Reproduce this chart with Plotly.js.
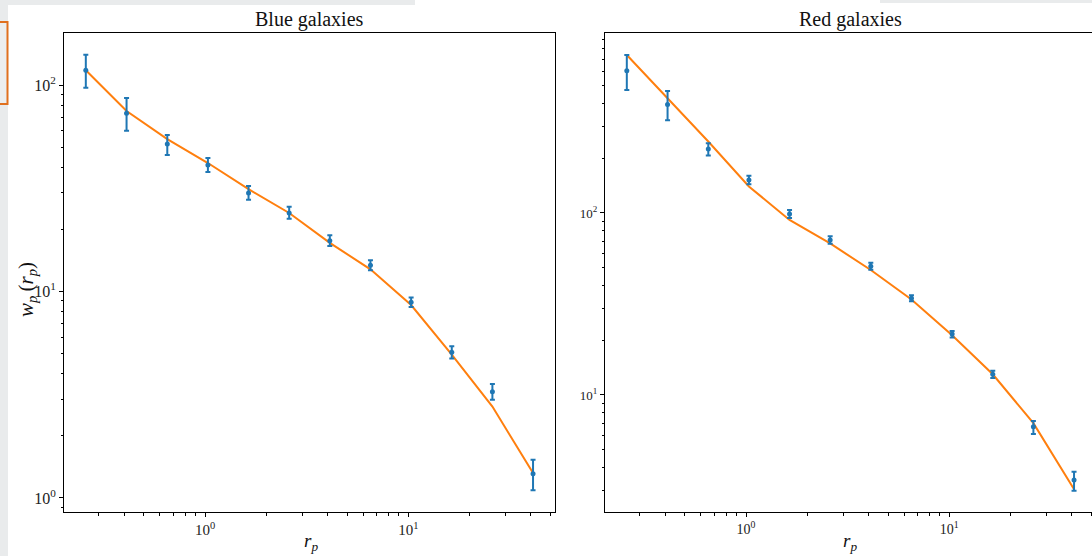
<!DOCTYPE html>
<html>
<head>
<meta charset="utf-8">
<script src="https://cdn.plot.ly/plotly-3.0.1.min.js"></script>
<style>
html,body{margin:0;padding:0;overflow:hidden;background:#fff;width:1092px;height:556px;}
#chart{width:1100px;height:556px;}
</style>
</head>
<body>
<div id="chart"></div>
<script>
// ---- data ----
const rp = [0.259, 0.411, 0.652, 1.033, 1.637, 2.594, 4.111, 6.516, 10.33, 16.37, 25.94, 41.11];

const blueObs   = [118, 73, 51.8, 41, 30, 24, 17.6, 13.4, 8.87, 5.08, 3.27, 1.31];
const blueErrHi = [22, 13.5, 5.5, 3.3, 2.4, 1.7, 1.1, 0.76, 0.47, 0.35, 0.29, 0.22];
const blueErrLo = [21, 13, 6, 3.1, 2.2, 1.5, 1.0, 0.72, 0.45, 0.35, 0.28, 0.22];
const blueModel = [118, 74.8, 54.7, 41.9, 31.3, 24, 17.2, 12.8, 8.6, 4.95, 2.77, 1.32];

const redObs    = [605, 395, 225, 152, 98.8, 71, 51, 34, 21.6, 13.0, 6.7, 3.41];
const redErrHi  = [133, 73, 17, 8, 5.2, 3.5, 2.3, 1.3, 0.9, 0.6, 0.5, 0.38];
const redErrLo  = [131, 72, 18, 8, 4.8, 3.3, 2.2, 1.3, 0.9, 0.6, 0.6, 0.43];
const redModel  = [738, 427, 247, 140, 91.6, 68, 48.6, 33.5, 21.3, 13.0, 7.0, 3.03];

const xTicks      = [1, 10];
const xTickText   = ["10<sup>0</sup>", "10<sup>1</sup>"];
const yTicksBlue  = [1, 10, 100];
const yTextBlue   = ["10<sup>0</sup>", "10<sup>1</sup>", "10<sup>2</sup>"];
const yTicksRed   = [10, 100];
const yTextRed    = ["10<sup>1</sup>", "10<sup>2</sup>"];
const minorTicks = [];
[0.1, 1, 10, 100].forEach(d => { for (let k = 2; k <= 9; k++) minorTicks.push(+(k * d).toPrecision(3)); });

const titles = ["Blue galaxies", "Red galaxies"];
const xLabel = "<i>r</i><sub><i>p</i></sub>";
const yLabel = "<i>w</i><sub><i>p</i></sub>\u2009(<i>r</i><sub><i>p</i></sub>)";

// ---- styling ----
const C0 = "#1f77b4", C1 = "#ff7f0e";
const FONT = "Liberation Serif, DejaVu Serif, serif";

function obsTrace(y, hi, lo, xa, ya) {
  return {
    x: rp, y: y, xaxis: xa, yaxis: ya, type: "scatter", mode: "markers",
    marker: {color: C0, size: 5},
    error_y: {type: "data", symmetric: false, array: hi, arrayminus: lo,
              color: C0, thickness: 2, width: 2.5},
    showlegend: false
  };
}
function modelTrace(y, xa, ya) {
  return {x: rp, y: y, xaxis: xa, yaxis: ya, type: "scatter", mode: "lines",
          line: {color: C1, width: 2}, showlegend: false};
}

const data = [
  modelTrace(blueModel, "x", "y"),
  obsTrace(blueObs, blueErrHi, blueErrLo, "x", "y"),
  modelTrace(redModel, "x2", "y2"),
  obsTrace(redObs, redErrHi, redErrLo, "x2", "y2")
];

function axis(domain, range, anchor, fs, vals, text) {
  return {
    type: "log", domain: domain, range: range, anchor: anchor,
    showline: true, mirror: true, linecolor: "#000", linewidth: 1,
    showgrid: false, zeroline: false,
    ticks: "outside", ticklen: 4, tickwidth: 1, tickcolor: "#000",
    tickmode: "array", tickvals: vals, ticktext: text,
    tickfont: {family: FONT, size: fs, color: "#222"},
    minor: {tickmode: "array", tickvals: minorTicks, ticks: "outside",
            ticklen: 2.5, tickwidth: 1, tickcolor: "#000", showgrid: false}
  };
}

const W = 1100, H = 556;
const yDom = [(H - 512) / H, (H - 33) / H];
const layout = {
  width: W, height: H,
  margin: {l: 0, r: 0, t: 0, b: 0},
  paper_bgcolor: "#fff", plot_bgcolor: "#fff",
  font: {family: FONT},
  xaxis:  axis([64 / W, 555 / W], [-0.694, 1.722], "y", 15, xTicks, xTickText),
  yaxis:  axis(yDom, [-0.068, 2.252], "x", 16, yTicksBlue, yTextBlue),
  xaxis2: axis([605 / W, 1096 / W], [-0.694, 1.722], "y2", 14, xTicks, xTickText),
  yaxis2: axis(yDom, [0.357, 2.989], "x2", 13, yTicksRed, yTextRed),
  annotations: [
    {text: titles[0], xref: "paper", yref: "paper", x: 309.5 / W, y: (H - 19) / H,
     showarrow: false, font: {family: FONT, size: 20, color: "#111"}, xanchor: "center", yanchor: "middle"},
    {text: titles[1], xref: "paper", yref: "paper", x: 850 / W, y: (H - 19) / H,
     showarrow: false, font: {family: FONT, size: 20, color: "#111"}, xanchor: "center", yanchor: "middle"},
    {text: xLabel, xref: "paper", yref: "paper", x: 311 / W, y: (H - 542) / H,
     showarrow: false, font: {family: FONT, size: 19, color: "#111"}, xanchor: "center", yanchor: "middle"},
    {text: xLabel, xref: "paper", yref: "paper", x: 850 / W, y: (H - 542) / H,
     showarrow: false, font: {family: FONT, size: 19, color: "#111"}, xanchor: "center", yanchor: "middle"},
    {text: yLabel, xref: "paper", yref: "paper", x: 27 / W, y: (H - 290) / H, textangle: -90,
     showarrow: false, font: {family: FONT, size: 21, color: "#111"}, xanchor: "center", yanchor: "middle"}
  ],
  shapes: [
    {type: "rect", xref: "paper", yref: "paper", x0: 0, x1: 8 / W, y0: 0, y1: 1,
     fillcolor: "#e9ebec", line: {width: 0}, layer: "below"},
    {type: "rect", xref: "paper", yref: "paper", x0: 0, x1: 415 / W, y0: (H - 5) / H, y1: 1,
     fillcolor: "#e9ebec", line: {width: 0}, layer: "below"},
    {type: "rect", xref: "paper", yref: "paper", x0: 880 / W, x1: 1, y0: (H - 3) / H, y1: 1,
     fillcolor: "#e9ebec", line: {width: 0}, layer: "below"},
    {type: "rect", xref: "paper", yref: "paper", x0: -2 / W, x1: 7.5 / W, y0: (H - 104) / H, y1: (H - 22) / H,
     fillcolor: "#eceeef", line: {color: "#e0701f", width: 2}, layer: "below"}
  ]
};

Plotly.newPlot("chart", data, layout, {staticPlot: true, displayModeBar: false});
</script>
</body>
</html>
